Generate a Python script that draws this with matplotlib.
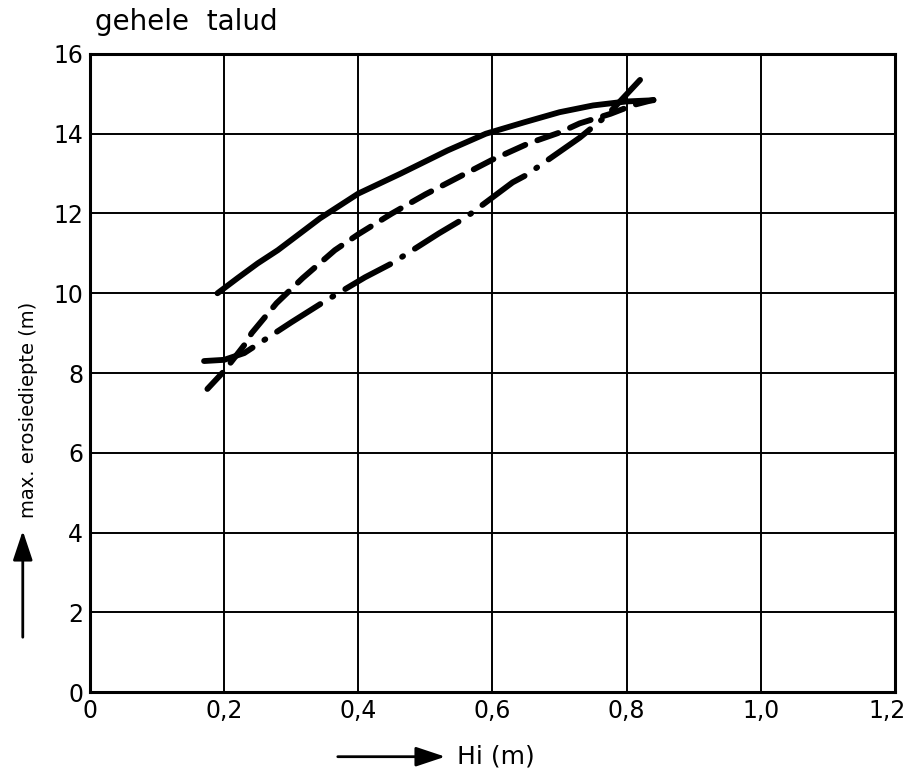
import matplotlib
matplotlib.use("Agg")
import matplotlib.pyplot as plt
from matplotlib.transforms import ScaledTranslation

# curves read as (Hi, max. erosiediepte)
solid_hi = [0.19, 0.22, 0.25, 0.28, 0.343, 0.40, 0.463, 0.533, 0.59, 0.648, 0.70, 0.75, 0.80, 0.84]
solid_d = [10.0, 10.38, 10.75, 11.08, 11.88, 12.5, 13.0, 13.58, 14.0, 14.29, 14.54, 14.71, 14.81, 14.84]

dash_hi = [0.175, 0.20, 0.23, 0.241, 0.278, 0.317, 0.365, 0.40, 0.45, 0.50, 0.60, 0.654, 0.70,
           0.73, 0.776, 0.81, 0.84]
dash_d = [7.6, 8.05, 8.7, 9.0, 9.75, 10.38, 11.08, 11.48, 12.0, 12.48, 13.35, 13.76, 14.03,
          14.26, 14.5, 14.72, 14.85]

dd_hi = [0.17, 0.20, 0.23, 0.30, 0.35, 0.41, 0.45, 0.52, 0.56, 0.63, 0.65, 0.73, 0.77, 0.82]
dd_d = [8.3, 8.33, 8.5, 9.27, 9.8, 10.4, 10.75, 11.5, 11.9, 12.78, 12.96, 13.9, 14.45, 15.35]

x_ticks = [0, 0.2, 0.4, 0.6, 0.8, 1.0, 1.2]
x_labels = ["0", "0,2", "0,4", "0,6", "0,8", "1,0", "1,2"]
y_ticks = [0, 2, 4, 6, 8, 10, 12, 14, 16]

plt.rcParams["font.family"] = "DejaVu Sans"

fig = plt.figure(figsize=(9.11, 7.69), dpi=100)
ax = fig.add_axes([0.0988, 0.1001, 0.8836, 0.8297])

ax.set_xlim(0, 1.2)
ax.set_ylim(0, 16)
ax.set_xticks(x_ticks, labels=x_labels)
ax.set_yticks(y_ticks, labels=[str(v) for v in y_ticks])
ax.tick_params(length=0, labelsize=17, pad=5)
ax.grid(True, color="black", linewidth=1.4)
for s in ax.spines.values():
    s.set_linewidth(2.2)

# keep the last x label inside the figure edge
last = ax.get_xticklabels()[-1]
last.set_transform(last.get_transform() + ScaledTranslation(-8 / 100, 0, fig.dpi_scale_trans))

lw = 4.2
ax.plot(solid_hi, solid_d, color="black", lw=lw, solid_capstyle="round")
ax.plot(dash_hi, dash_d, color="black", lw=lw, dashes=(3.8, 2.2), dash_capstyle="round")
ax.plot(dd_hi, dd_d, color="black", lw=lw, dashes=(8.8, 2.4, 0.2, 2.4), dash_capstyle="round")

fig.text(0.104, 0.972, "gehele  talud", fontsize=20, va="center", ha="left")
fig.text(0.031, 0.467, "max. erosiediepte (m)", fontsize=14, rotation=90, va="center", ha="center")
fig.text(0.502, 0.016, "Hi (m)", fontsize=18, va="center", ha="left")

# axis arrows
fig.add_artist(matplotlib.patches.FancyArrowPatch(
    (0.025, 1 - 640 / 769), (0.025, 1 - 528 / 769), transform=fig.transFigure,
    arrowstyle="-|>,head_length=0.9,head_width=0.3", mutation_scale=20, color="black", lw=2))
fig.add_artist(matplotlib.patches.FancyArrowPatch(
    (335 / 911, 0.016), (448 / 911, 0.016), transform=fig.transFigure,
    arrowstyle="-|>,head_length=0.9,head_width=0.3", mutation_scale=20, color="black", lw=2))

fig.savefig("out.png", dpi=100)
